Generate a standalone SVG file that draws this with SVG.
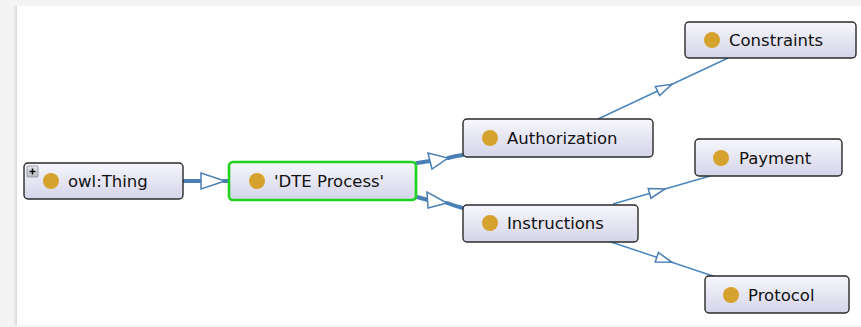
<svg xmlns="http://www.w3.org/2000/svg" width="861" height="327" viewBox="0 0 861 327">
<defs>
<linearGradient id="nodeFill" x1="0" y1="0" x2="0" y2="1">
<stop offset="0" stop-color="#f7f7fc"/>
<stop offset="1" stop-color="#d4d4ea"/>
</linearGradient>
<linearGradient id="plusFill" x1="0" y1="0" x2="0" y2="1">
<stop offset="0" stop-color="#e8e8ee"/>
<stop offset="1" stop-color="#b8bcc8"/>
</linearGradient>
<linearGradient id="shadow" x1="0" y1="0" x2="1" y2="0">
<stop offset="0" stop-color="#f4f4f4"/>
<stop offset="1" stop-color="#d8d8d8"/>
</linearGradient>
</defs>
<style>
.box{fill:url(#nodeFill);stroke:#2a2a2a;stroke-width:1.4}
.sel{fill:url(#nodeFill);stroke:#1ed31e;stroke-width:2.6}
.dot{fill:#d6a22e}
.lbl{font-family:"DejaVu Sans","Liberation Sans",sans-serif;font-size:16.5px;fill:#111}
.thick{fill:none;stroke:#4a7fb3;stroke-width:4;stroke-linecap:round}
.thin{fill:none;stroke:#4a86be;stroke-width:1.5}
.head{fill:#ffffff;stroke:#4a7fb3;stroke-width:1.5;stroke-linejoin:miter}
</style>
<rect x="0" y="0" width="861" height="327" fill="#f4f4f4"/>
<rect x="13" y="6" width="4" height="319" fill="url(#shadow)"/>
<rect x="17" y="6" width="844" height="319" fill="#ffffff"/>

<g id="connectors">
<path class="thick" d="M183 181 L201 181"/>
<path class="thick" d="M224 181 L229 181"/>
<polygon class="head" points="201,173 201,189 225,181"/>
<path class="thick" d="M417 163 L430 161"/>
<path class="thick" d="M448 158 Q455 156 463 155"/>
<polygon class="head" points="428,153 432,169 448,158"/>
<path class="thick" d="M417 197 L428 200"/>
<path class="thick" d="M447 203 Q455 206 463 208"/>
<polygon class="head" points="427,192 428,208 447,203"/>
<path class="thin" d="M598 119 L728 58"/>
<polygon class="head" points="659.6,95.6 655.4,86.6 672,84.3"/>
<path class="thin" d="M613 204 L710 176"/>
<polygon class="head" points="651,198.2 648.2,188.6 665,189"/>
<path class="thin" d="M611 242 L716 277"/>
<polygon class="head" points="655.2,262 658.4,252.5 672,262.3"/>
</g>

<g id="owl-thing">
<rect class="box" x="24" y="163" width="159" height="36" rx="4"/>
<rect x="27" y="166" width="11" height="11" rx="1" fill="url(#plusFill)" stroke="#8a8e98" stroke-width="0.8"/>
<path d="M29.5 171.5 H35.5 M32.5 168.5 V174.5" stroke="#111" stroke-width="1.6"/>
<circle class="dot" cx="51" cy="181" r="8"/>
<text class="lbl" x="68" y="187">owl:Thing</text>
</g>

<g id="dte-process">
<rect class="sel" x="229" y="162" width="187" height="38" rx="4"/>
<circle class="dot" cx="257" cy="181" r="8"/>
<text class="lbl" x="274" y="187">'DTE Process'</text>
</g>

<g id="authorization">
<rect class="box" x="463" y="119" width="190" height="38" rx="4"/>
<circle class="dot" cx="490" cy="138" r="8"/>
<text class="lbl" x="507" y="144">Authorization</text>
</g>

<g id="instructions">
<rect class="box" x="463" y="205" width="175" height="37" rx="4"/>
<circle class="dot" cx="490" cy="223" r="8"/>
<text class="lbl" x="507" y="229">Instructions</text>
</g>

<g id="constraints">
<rect class="box" x="685" y="22" width="171" height="36" rx="4"/>
<circle class="dot" cx="712" cy="40" r="8"/>
<text class="lbl" x="729" y="46">Constraints</text>
</g>

<g id="payment">
<rect class="box" x="695" y="139" width="147" height="37" rx="4"/>
<circle class="dot" cx="721" cy="158" r="8"/>
<text class="lbl" x="739" y="164">Payment</text>
</g>

<g id="protocol">
<rect class="box" x="705" y="276" width="144" height="37" rx="4"/>
<circle class="dot" cx="731" cy="295" r="8"/>
<text class="lbl" x="748" y="301">Protocol</text>
</g>
</svg>
